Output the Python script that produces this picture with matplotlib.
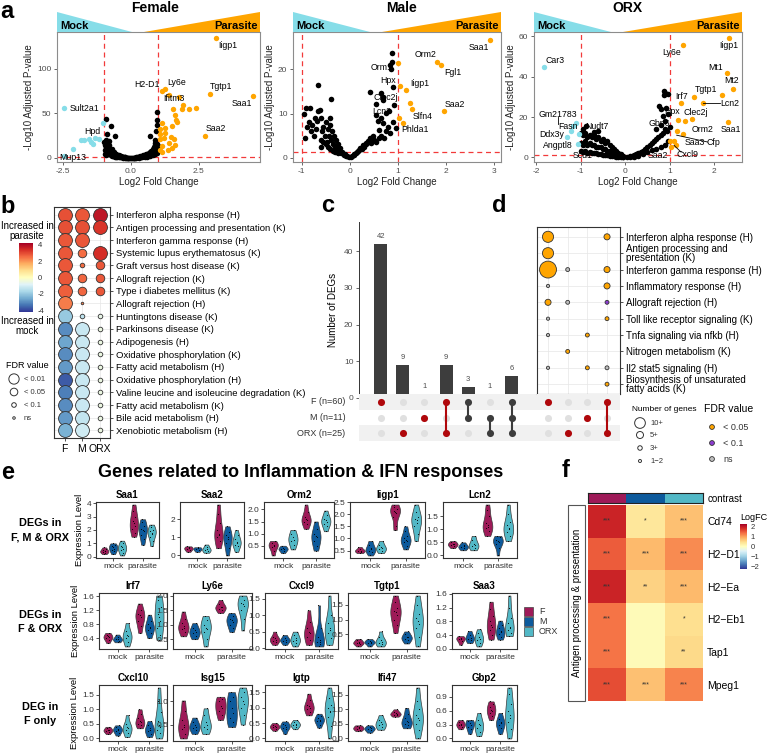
import numpy as np
import matplotlib
matplotlib.use('Agg')
import matplotlib.pyplot as plt
from matplotlib.patches import Polygon, Rectangle
from matplotlib.colors import Normalize, ListedColormap
from matplotlib.cm import ScalarMappable

plt.rcParams['font.family'] = ['Liberation Sans', 'DejaVu Sans']

# ---------------- data ----------------
# a: volcano plots (log2FC, -log10 padj)
female_bg_x = [-0.98, -0.95, -0.92, -0.9, -0.88, -0.85, -0.82, -0.8, -0.77, -0.74, -0.7, -0.66, -0.62, -0.58,
               -0.54, -0.5, -0.45, -0.4, -0.35, -0.3, -0.25, -0.2, -0.15, -0.1, -0.05,
               -0.95, -0.9, -0.85, -0.8, -0.75, -0.7, -0.65, -0.6, -0.55, -0.5, -0.45, -0.4, -0.3, -0.2,
               -0.91, -0.72, -0.87, -0.6, -0.8,
               0.05, 0.1, 0.15, 0.2, 0.25, 0.3, 0.35, 0.4, 0.45, 0.5, 0.55, 0.6, 0.65, 0.7, 0.75, 0.8,
               0.85, 0.9, 0.95, 0.98, 0.3, 0.4, 0.5, 0.6, 0.7, 0.8, 0.9, 0.95, 0.85, 0.75,
               0.97, 0.96, 0.95, 0.71, 0.88, 0.93, 0.9,
               -0.97, -0.93, -0.89, -0.86, -0.83, -0.79, -0.76, -0.72, -0.68, -0.64, -0.6, -0.56, -0.52, -0.48,
               -0.43, -0.38, -0.33, -0.28, -0.23, -0.18, -0.12, -0.07, 0.0, 0.07, 0.12, 0.18, 0.23, 0.28, 0.33,
               0.38, 0.43, 0.48, 0.53, 0.58, 0.63, 0.68, 0.73, 0.78, 0.83, 0.88, 0.93, 0.97, 0.92, 0.87, 0.82]
female_bg_y = [18, 14, 20, 10, 15, 12, 8, 14, 9, 6, 10, 5, 7, 4, 5, 3, 3.5, 2.5, 2, 1.5, 1.2, 0.8, 0.5, 0.3, 0.1,
               5, 3, 6, 4, 3, 2.5, 2, 1.5, 1.2, 1, 0.8, 0.6, 0.4, 0.2,
               44, 36, 27, 24.5, 19,
               0.1, 0.3, 0.5, 0.8, 1.1, 1.5, 2, 2.5, 3, 3.5, 4, 5, 6, 7, 8, 10,
               12, 14, 16, 13, 0.5, 0.8, 1, 1.5, 2, 3, 4, 6, 5, 4,
               52, 42, 37, 25, 17, 30, 20,
               9, 12, 7, 9, 5, 8, 5, 6, 4, 4, 3.5, 3, 2.5, 2,
               2, 1.5, 1, 0.8, 0.6, 0.4, 0.2, 0.1, 0.05, 0.1, 0.2, 0.4, 0.6, 0.8, 1.1,
               1.5, 2, 2.5, 2.8, 3.5, 4, 5, 5.5, 7, 8, 9, 11, 9, 7, 8, 6]
female_up_x = [3.13, 2.91, 4.48, 2.74, 1.14, 1.27, 1.39, 1.77, 1.93, 1.89, 2.14, 2.39, 1.54, 1.62, 1.67, 1.68,
               1.52, 1.14, 1.08, 1.27, 1.46, 1.58, 1.39, 1.14, 1.52, 1.64, 1.07, 1.2, 1.07, 1.35, 1.14, 1.08, 1.27]
female_up_y = [134, 72, 69, 25, 75, 77, 71, 68, 59, 55, 55, 56, 54.5, 48.5, 43, 40,
               36, 39.5, 32, 28, 24, 21, 17, 13, 11, 15, 21, 22, 9, 9, 7, 27, 33]
female_dn_x = [-2.46, -2.45, -2.12, -1.82, -1.72, -1.53, -1.47, -1.34, -1.16, -1.41, -1.03]
female_dn_y = [55.6, 2, 10.3, 19.6, 19.6, 21, 18, 22.6, 21, 16, 39.5]

male_bg_x = [-0.95, -0.9, -0.93, -0.88, -0.85, -0.83, -0.8, -0.79, -0.75, -0.72, -0.7, -0.69, -0.66, -0.65,
             -0.62, -0.6, -0.59, -0.57, -0.55, -0.52, -0.5, -0.48, -0.46, -0.44, -0.42, -0.41, -0.39, -0.38,
             -0.36, -0.35, -0.33, -0.3, -0.28, -0.26, -0.24, -0.22, -0.2, -0.18, -0.15, -0.12, -0.1, -0.07,
             -0.05, -0.02, -0.4, -0.45, -0.35, -0.3, -0.5, -0.55, -0.6, -0.25,
             0.02, 0.05, 0.08, 0.1, 0.13, 0.15, 0.18, 0.2, 0.22, 0.25, 0.28, 0.3, 0.33, 0.35, 0.38, 0.4,
             0.42, 0.45, 0.48, 0.5, 0.43, 0.54, 0.55, 0.59, 0.62, 0.66, 0.66, 0.69, 0.7, 0.69, 0.76, 0.76,
             0.81, 0.83, 0.88, 0.88, 0.83, 0.86, 0.97, 0.6, 0.65, 0.55, 0.72, 0.8, 0.9, 0.93, 0.9]
male_bg_y = [9.8, 11.2, 4.5, 7, 8, 11.2, 6, 7.5, 5, 9, 6.5, 8.2, 16.4, 10.5,
             10.8, 4, 9, 6, 7, 5, 8, 3.5, 6.5, 5, 7.5, 9, 13.4, 4,
             6, 3, 5, 2.5, 4, 2, 3, 1.5, 2.2, 1, 1.2, 0.6, 0.8, 0.3,
             0.4, 0.1, 2, 2.5, 1.5, 1.2, 3, 3.5, 2.5, 1,
             0.1, 0.3, 0.5, 0.8, 1, 1.2, 1.5, 1.8, 2.2, 2, 2.8, 2.5, 3.2, 3, 3.8, 3.5,
             4.5, 3.2, 5, 4, 14.9, 12.2, 9.7, 8.2, 6.3, 9, 14.6, 13.7, 13, 7.8, 10.1, 6,
             10.6, 5.6, 23.7, 21.6, 20.9, 20.1, 6.7, 4.5, 5, 3.5, 4.5, 7, 8, 12, 16]
male_up_x = [2.93, 1.81, 1.91, 1.01, 1.05, 1.17, 1.26, 1.30, 1.96, 1.03, 1.10]
male_up_y = [26.6, 21.6, 20.9, 21.4, 16.2, 15.3, 12.3, 11.0, 10.6, 9.0, 7.8]

orx_bg_x = [-1.0, -0.95, -0.9, -0.85, -0.8, -0.75, -0.7, -0.65, -0.6, -0.55, -0.5, -0.45, -0.4, -0.35, -0.3,
            -0.25, -0.2, -0.15, -0.1, -0.05,
            -1.0, -0.95, -0.9, -0.85, -0.8, -0.75, -0.7, -0.65, -0.6, -0.55, -0.5, -0.45, -0.4, -0.35, -0.3,
            -0.25, -0.2, -0.15, -0.1, -0.05,
            -1.0, -0.95, -0.9, -0.85, -0.8, -0.75, -0.7, -0.65, -0.6, -0.55, -0.5, -0.45, -0.4, -0.35, -0.3,
            -0.25, -0.2, -0.15, -0.1, -0.05,
            -0.88, -0.95, -0.7, -0.6,
            0.05, 0.1, 0.15, 0.2, 0.25, 0.3, 0.35, 0.4, 0.45, 0.5, 0.55, 0.6, 0.65, 0.7, 0.75, 0.8, 0.85,
            0.9, 0.95, 1.0,
            0.1, 0.2, 0.3, 0.4, 0.5, 0.6, 0.7, 0.8, 0.9, 0.97,
            0.88, 0.9, 0.96, 0.88, 0.76, 0.81, 0.92, 0.85, 0.96, 0.9, 0.8, 0.7]
orx_bg_y = [12, 11, 12, 10, 11, 10, 11, 9, 10, 8, 9, 7, 8, 6, 5, 4, 3, 2, 1.5, 0.8,
            7, 6, 8, 6, 7, 6, 6, 5, 5, 5, 4, 4, 3, 3, 2.5, 2, 1.5, 1, 0.7, 0.3,
            3, 2.5, 3, 2, 2.5, 2, 2, 2, 1.5, 1.5, 1.2, 1, 1, 0.8, 0.6, 0.5, 0.4, 0.3, 0.2, 0.1,
            15.7, 14, 12.5, 13,
            0.3, 0.5, 0.8, 1, 1.5, 2, 2.5, 3, 4, 5, 6, 7, 8, 9, 10, 11, 12, 14, 13, 15,
            0.2, 0.4, 0.8, 1.5, 2.5, 3.5, 4, 5, 6, 8,
            33, 31.7, 31.4, 30.9, 25.6, 24, 24.5, 20.7, 21.5, 18, 16, 14]
orx_up_x = [2.34, 1.30, 2.29, 2.42, 1.56, 2.19, 1.75, 1.26, 1.51, 1.35, 1.18, 2.31, 1.30, 1.16, 1.02,
            1.11, 1.15, 1.03]
orx_up_y = [59.2, 55.7, 41.7, 33.9, 30.1, 30.9, 26.9, 26.9, 19, 18.2, 18.7, 17.7, 11.6, 13.2, 8.3,
            8.3, 6.1, 5]
orx_dn_x = [-1.83, -1.10, -1.18, -1.30, -1.21, -1.03, -1.06]
orx_dn_y = [45, 16.9, 15.7, 9.9, 13.2, 11.6, 6.6]

female_labels = [('Iigp1', 3.57, 125.6), ('Tgtp1', 3.32, 80), ('Saa1', 4.07, 61), ('Saa2', 3.13, 33),
                 ('Ly6e', 1.7, 84.5), ('H2-D1', 0.59, 82.6), ('Ifitm3', 1.58, 67), ('Sult2a1', -1.72, 55.6),
                 ('Hpd', -1.43, 30), ('Mup13', -2.15, 0)]
male_labels = [('Saa1', 2.69, 25), ('Orm2', 1.57, 23.3), ('Fgl1', 2.15, 19.4), ('Orm1', 0.66, 20.5),
               ('Hpx', 0.79, 17.6), ('Iigp1', 1.45, 16.8), ('Clec2j', 0.75, 13.7), ('Lcn2', 0.66, 10.4),
               ('Slfn4', 1.52, 9.3), ('Saa2', 2.19, 12), ('Phlda1', 1.35, 6.3)]
orx_labels = [('Iigp1', 2.34, 55.3), ('Ly6e', 1.05, 52), ('Mt1', 2.04, 44.6), ('Mt2', 2.4, 37.9),
              ('Tgtp1', 1.82, 33.5), ('Irf7', 1.28, 30.2), ('Lcn2', 2.36, 26.9), ('Clec2j', 1.58, 22.3),
              ('Hpx', 1.05, 23), ('Car3', -1.57, 48.2), ('Gm21783', -1.51, 21.4), ('Fasn', -1.29, 15.3),
              ('Ddx3y', -1.66, 11.5), ('Angptl8', -1.51, 6), ('Nudt7', -0.64, 15.3), ('Gbp6', 0.76, 17),
              ('Orm2', 1.75, 14), ('Saa1', 2.38, 14), ('Saa3', 1.56, 7.4), ('Cfp', 1.99, 7.4),
              ('Cxcl9', 1.41, 1.6), ('Saa2', 0.73, 0.8), ('Scd1', -0.95, 1.0)]
orx_leaders = [((1.75, 26.9), (2.14, 26.9)), ((1.16, 11.0), (1.86, 7.6)), ((1.10, 6.0), (1.26, 2.6)),
               ((-1.5, 16.5), (-1.5, 19.8))]

# b: pathway dot plot
b_paths = ['Interferon alpha response (H)', 'Antigen processing and presentation (K)',
           'Interferon gamma response (H)', 'Systemic lupus erythematosus (K)', 'Graft versus host disease (K)',
           'Allograft rejection (K)', 'Type i diabetes mellitus (K)', 'Allograft rejection (H)',
           'Huntingtons disease (K)', 'Parkinsons disease (K)', 'Adipogenesis (H)',
           'Oxidative phosphorylation (K)', 'Fatty acid metabolism (H)', 'Oxidative phosphorylation (H)',
           'Valine leucine and isoleucine degradation (K)', 'Fatty acid metabolism (K)',
           'Bile acid metabolism (H)', 'Xenobiotic metabolism (H)']
b_cols = ['F', 'M', 'ORX']
b_F = [2.9, 2.9, 2.8, 2.8, 2.8, 2.8, 2.7, 2.3, -2.0, -3.0, -2.6, -3.0, -2.8, -3.7, -3.2, -3.0, -2.8, -2.4]
b_M = [2.8, 2.9, 2.8, 2.5, 2.5, 2.6, 2.6, 2.3, -1.4, -1.2, -1.2, -1.2, -1.2, -1.2, -1.2, -1.2, -1.3, -1.1]
b_ORX = [3.8, 3.3, None, 3.4, 2.8, 2.8, 2.8, None, -0.6, -0.5, -0.5, -0.5, -0.5, -0.5, -0.5, -0.5, -0.5, -0.5]
b_F_fdr = ['<0.01'] * 18
b_M_fdr = ['<0.01', '<0.01', '<0.01', '<0.05', '<0.1', '<0.05', '<0.05', 'ns', '<0.1'] + ['<0.01'] * 9
b_ORX_fdr = ['<0.01', '<0.01', None, '<0.01', '<0.05', '<0.05', '<0.05', None] + ['<0.1'] * 10

# c: upset
c_counts = [42, 9, 1, 9, 3, 1, 6]
c_sets = [['F'], ['ORX'], ['M'], ['F', 'ORX'], ['F', 'M'], ['M', 'ORX'], ['F', 'M', 'ORX']]
c_red = [True, True, True, True, False, False, False]
set_groups = ['F', 'M', 'ORX']
set_names = ['F (n=60)', 'M (n=11)', 'ORX (n=25)']

# d: enrichment of the intersections
d_sets = [['F'], ['ORX'], ['M'], ['F', 'ORX']]
d_paths = ['Interferon alpha response (H)', 'Antigen processing and\npresentation (K)',
           'Interferon gamma response (H)', 'Inflammatory response (H)', 'Allograft rejection (H)',
           'Toll like receptor signaling (K)', 'Tnfa signaling via nfkb (H)', 'Nitrogen metabolism (K)',
           'Il2 stat5 signaling (H)', 'Biosynthesis of unsaturated\nfatty acids (K)']
d_row = [0, 0, 1, 2, 2, 2, 3, 3, 4, 4, 4, 5, 5, 6, 6, 7, 8, 8, 8, 9]
d_col = [0, 3, 0, 0, 1, 3, 0, 3, 0, 1, 3, 0, 3, 0, 2, 1, 0, 2, 3, 3]
d_genes = [12, 5, 12, 20, 2, 5, 1, 5, 5, 2, 2, 1, 2, 1, 2, 2, 1, 2, 2, 2]
d_fdr = ['<0.05', '<0.05', '<0.05', '<0.05', 'ns', '<0.05', 'ns', '<0.05', '<0.05', 'ns', '<0.1', 'ns',
         '<0.05', 'ns', '<0.05', '<0.05', 'ns', '<0.05', 'ns', '<0.05']

# e: violin plots, per gene: mock F, M, ORX, parasite F, M, ORX
saa1 = [[0.2, 0.3, 0.35, 0.4, 0.45, 0.5, 0.6, 0.7], [0.2, 0.4, 0.5, 0.6, 0.7, 0.8, 0.9, 1.0],
        [0.1, 0.3, 0.5, 0.6, 0.7, 0.8, 1.0, 1.2], [1.5, 1.8, 2.1, 2.3, 2.5, 2.7, 3.0, 3.4, 3.9],
        [0.9, 1.3, 1.6, 1.9, 2.0, 2.1, 2.3, 2.6, 2.8], [0.8, 1.2, 1.5, 1.7, 1.8, 1.9, 2.0, 2.2, 2.4]]
saa2 = [[0.2, 0.3, 0.35, 0.4, 0.45, 0.5], [0.2, 0.3, 0.35, 0.4, 0.45], [0.15, 0.25, 0.3, 0.35, 0.45, 0.6],
        [0.4, 0.8, 1.0, 1.1, 1.2, 1.4, 1.8, 2.3, 2.8], [0.0, 0.4, 0.7, 0.9, 1.0, 1.1, 1.3, 1.6],
        [0.2, 0.5, 0.6, 0.7, 0.75, 0.9, 1.1, 1.4]]
orm2 = [[0.1, 0.3, 0.45, 0.5, 0.55, 0.6, 0.7], [0.2, 0.3, 0.35, 0.38, 0.42, 0.5],
        [0.35, 0.55, 0.7, 0.75, 0.85, 1.0, 1.15], [1.2, 1.4, 1.5, 1.55, 1.6, 1.7, 1.9, 2.2],
        [0.3, 0.5, 0.7, 0.85, 0.9, 1.0, 1.2, 1.5], [1.1, 1.3, 1.4, 1.5, 1.55, 1.6, 1.75, 1.95]]
iigp1 = [[0.4, 0.45, 0.5, 0.5, 0.55, 0.65], [0.3, 0.45, 0.5, 0.55, 0.6, 0.75, 0.9],
         [0.4, 0.5, 0.55, 0.6, 0.65, 0.75, 0.9], [1.35, 1.5, 1.9, 2.05, 2.1, 2.15, 2.2, 2.3, 2.4],
         [0.55, 0.7, 0.85, 0.9, 0.95, 1.0, 1.1, 1.3, 1.5], [0.9, 1.2, 1.5, 1.65, 1.75, 1.8, 1.9, 2.1, 2.4]]
lcn2 = [[0.28, 0.35, 0.4, 0.42, 0.45, 0.5, 0.55], [0.2, 0.28, 0.32, 0.35, 0.4, 0.5],
        [0.2, 0.3, 0.35, 0.4, 0.45, 0.6, 0.75], [0.75, 0.95, 1.05, 1.1, 1.15, 1.25, 1.5, 1.75, 1.95],
        [0.0, 0.3, 0.45, 0.5, 0.55, 0.6, 0.7, 0.75], [0.55, 0.75, 0.9, 1.0, 1.05, 1.15, 1.3, 1.6, 1.95]]
irf7 = [[0.26, 0.35, 0.4, 0.42, 0.45, 0.5, 0.55], [0.28, 0.33, 0.36, 0.38, 0.42, 0.5],
        [0.16, 0.3, 0.4, 0.45, 0.5, 0.6, 0.83], [0.55, 0.75, 0.9, 1.0, 1.05, 1.1, 1.2, 1.39],
        [0.4, 0.55, 0.62, 0.68, 0.72, 0.8, 0.9, 1.07], [0.35, 0.5, 0.7, 0.9, 1.0, 1.1, 1.3, 1.5, 1.62]]
ly6e = [[0.6, 0.75, 0.85, 0.9, 0.95, 1.05, 1.2, 1.45], [0.5, 0.6, 0.7, 0.75, 0.8, 0.9, 1.05],
        [0.25, 0.5, 0.75, 0.85, 0.9, 1.0, 1.15, 1.3], [1.4, 1.5, 1.55, 1.6, 1.62, 1.7, 1.85],
        [0.75, 0.9, 1.0, 1.1, 1.15, 1.2, 1.3, 1.4], [0.8, 1.2, 1.5, 1.65, 1.7, 1.75, 1.85, 2.0]]
cxcl9 = [[0.1, 0.2, 0.23, 0.25, 0.3, 0.35, 0.5], [0.1, 0.2, 0.23, 0.25, 0.3, 0.4],
         [0.05, 0.15, 0.22, 0.25, 0.3, 0.4, 0.5], [0.1, 0.25, 0.35, 0.45, 0.5, 0.6, 0.8, 1.15],
         [0.05, 0.12, 0.18, 0.2, 0.25, 0.35, 0.6, 1.3], [0.1, 0.3, 0.45, 0.55, 0.6, 0.75, 1.0, 1.6]]
tgtp1 = [[0.1, 0.18, 0.2, 0.22, 0.25, 0.3, 0.35], [0.1, 0.2, 0.23, 0.25, 0.28, 0.35],
         [0.1, 0.18, 0.22, 0.25, 0.3, 0.4, 0.6], [0.55, 0.8, 1.0, 1.15, 1.25, 1.3, 1.4, 1.6, 1.8],
         [0.2, 0.3, 0.35, 0.4, 0.42, 0.5, 0.6], [0.1, 0.4, 0.7, 0.85, 0.95, 1.05, 1.2, 1.5, 1.8]]
saa3 = [[0.12, 0.22, 0.28, 0.3, 0.32, 0.37], [0.17, 0.25, 0.3, 0.33, 0.4, 0.52],
        [0.07, 0.18, 0.25, 0.3, 0.35, 0.45, 0.57], [0.27, 0.4, 0.55, 0.65, 0.7, 0.8, 0.95, 1.15, 1.37],
        [0.27, 0.35, 0.42, 0.48, 0.52, 0.6, 0.7, 0.82], [0.37, 0.45, 0.55, 0.6, 0.65, 0.75, 0.9, 1.2, 1.55]]
cxcl10 = [[0.15, 0.22, 0.25, 0.28, 0.3, 0.35, 0.4], [0.1, 0.2, 0.25, 0.3, 0.32, 0.38, 0.45],
          [0.05, 0.2, 0.3, 0.35, 0.4, 0.5, 0.8], [0.35, 0.45, 0.5, 0.55, 0.6, 0.7, 0.85, 1.0],
          [0.05, 0.15, 0.25, 0.3, 0.35, 0.45, 0.6], [0.0, 0.2, 0.3, 0.38, 0.45, 0.6, 0.9, 1.3, 1.75]]
isg15 = [[0.2, 0.3, 0.4, 0.45, 0.5, 0.6, 0.8, 1.02], [0.3, 0.38, 0.42, 0.45, 0.5, 0.55, 0.65],
         [0.3, 0.4, 0.45, 0.5, 0.55, 0.7, 0.85], [0.6, 0.7, 0.8, 0.85, 0.9, 1.0, 1.05, 1.1],
         [0.45, 0.55, 0.65, 0.75, 0.85, 1.0, 1.1, 1.2], [0.5, 0.7, 0.85, 0.95, 1.0, 1.1, 1.2, 1.3]]
igtp = [[0.25, 0.32, 0.36, 0.38, 0.4, 0.45, 0.5], [0.15, 0.3, 0.35, 0.38, 0.42, 0.48, 0.55],
        [0.3, 0.38, 0.42, 0.45, 0.48, 0.52, 0.6], [0.75, 0.85, 0.95, 1.0, 1.05, 1.1, 1.25, 1.45],
        [0.35, 0.45, 0.55, 0.58, 0.6, 0.65, 0.72, 0.8], [0.0, 0.4, 0.7, 0.85, 0.9, 1.0, 1.1, 1.3, 1.65]]
ifi47 = [[0.25, 0.3, 0.33, 0.35, 0.38, 0.42, 0.45], [0.2, 0.28, 0.32, 0.35, 0.38, 0.45],
         [0.3, 0.38, 0.45, 0.5, 0.55, 0.65, 0.8], [0.75, 0.8, 0.82, 0.85, 0.88, 0.92, 1.0],
         [0.35, 0.45, 0.5, 0.55, 0.6, 0.7, 0.85, 1.05], [0.0, 0.3, 0.5, 0.65, 0.7, 0.8, 1.0, 1.3, 1.75]]
gbp2 = [[0.2, 0.25, 0.28, 0.3, 0.32, 0.36, 0.4], [0.1, 0.2, 0.25, 0.3, 0.33, 0.38, 0.4],
        [0.05, 0.15, 0.22, 0.28, 0.32, 0.4, 0.55], [0.4, 0.48, 0.55, 0.6, 0.62, 0.68, 0.75, 0.8],
        [0.1, 0.22, 0.28, 0.33, 0.36, 0.42, 0.55], [0.0, 0.2, 0.35, 0.45, 0.5, 0.6, 0.75, 0.95, 1.1]]

e_names = [['Saa1', 'Saa2', 'Orm2', 'Iigp1', 'Lcn2'],
           ['Irf7', 'Ly6e', 'Cxcl9', 'Tgtp1', 'Saa3'],
           ['Cxcl10', 'Isg15', 'Igtp', 'Ifi47', 'Gbp2']]
e_data = [[saa1, saa2, orm2, iigp1, lcn2],
          [irf7, ly6e, cxcl9, tgtp1, saa3],
          [cxcl10, isg15, igtp, ifi47, gbp2]]
e_ticks = [[[0, 1, 2, 3, 4], [0, 1, 2], [0.5, 1.0, 1.5, 2.0], [0.5, 1.0, 1.5, 2.0, 2.5], [0.0, 0.5, 1.0, 1.5]],
           [[0.4, 0.8, 1.2, 1.6], [0.5, 1.0, 1.5, 2.0], [0.0, 0.5, 1.0, 1.5], [0.0, 0.5, 1.0, 1.5],
            [0.0, 0.4, 0.8, 1.2, 1.6]],
           [[0.0, 0.5, 1.0, 1.5], [0.5, 1.0], [0.0, 0.5, 1.0, 1.5], [0.0, 0.5, 1.0, 1.5], [0.0, 0.3, 0.6, 0.9]]]
e_rowlabels = ['DEGs in\nF, M & ORX', 'DEGs in\nF & ORX', 'DEG in\nF only']
conditions = ['mock', 'parasite']

# f: heatmap
f_genes = ['Cd74', 'H2\u2212D1', 'H2\u2212Ea', 'H2\u2212Eb1', 'Tap1', 'Mpeg1']
f_logfc = [[1.7, 0.3, 0.65], [1.3, 0.7, 1.0], [1.7, 0.5, 0.7], [1.15, 0.05, 0.4], [1.15, 0.05, 0.45],
           [1.4, 0.65, 1.05]]
f_stars = [['***', '*', '***'], ['***', '***', '***'], ['***', '**', '***'], ['***', '', '*'],
           ['***', '', '**'], ['***', '***', '***']]

# ---------------- style ----------------
W, H = 767, 753
CYAN = '#86DDE8'
ORANGE = '#FFA500'
RED_LINE = '#F23A3A'
GRP_COL = {'F': '#9E1A58', 'M': '#0D5A9C', 'ORX': '#52B8C6'}
UPSET_RED = '#B0080C'
DARK = '#3D3D3D'
TICK_GREY = '#4D4D4D'

fig = plt.figure(figsize=(W / 100, H / 100), dpi=100)


def add_ax(l, t, r, b):
    return fig.add_axes([l / W, 1 - b / H, (r - l) / W, (b - t) / H])


# ---------------- a: volcano ----------------
def volcano(l, r, title, title_x, bg, up, dn, xlim, ylim, xticks, xtl, yticks, labels, leaders=()):
    ax = add_ax(l, 32, r, 162)
    ax.scatter(bg[0], bg[1], s=16, c='black', lw=0, zorder=3)
    if up:
        ax.scatter(up[0], up[1], s=15, c=ORANGE, lw=0, zorder=3)
    if dn:
        ax.scatter(dn[0], dn[1], s=15, c=CYAN, lw=0, zorder=3)
    for xv in (-1, 1):
        ax.axvline(xv, color=RED_LINE, ls=(0, (4, 3)), lw=0.9, zorder=2)
    ax.axhline(-np.log10(0.05), color=RED_LINE, ls=(0, (4, 3)), lw=0.9, zorder=2)
    for name, tx, ty in labels:
        ax.text(tx, ty, name, fontsize=6.3, ha='center', va='center', zorder=4)
    for (x0, y0), (x1, y1) in leaders:
        ax.plot([x0, x1], [y0, y1], color='black', lw=0.6, zorder=4)
    ax.set_xlim(*xlim)
    ax.set_ylim(*ylim)
    ax.set_xticks(xticks, xtl)
    ax.set_yticks(yticks, [str(v) for v in yticks])
    ax.tick_params(labelsize=6, colors=TICK_GREY, length=2.5, width=0.6, pad=1.5)
    for s in ax.spines.values():
        s.set_color('#8C8C8C')
        s.set_linewidth(0.8)
    ax.set_xlabel('Log2 Fold Change', fontsize=7, color='#222222', labelpad=1.5)
    ax.set_ylabel('-Log10 Adjusted P-value', fontsize=7, color='#222222', labelpad=2)
    tri = add_ax(l, 12, r, 32)
    tri.set_xlim(0, 1)
    tri.set_ylim(0, 1)
    tri.axis('off')
    tri.add_patch(Polygon([(0, 1), (0, 0), (0.37, 0)], closed=True, fc=CYAN, ec='none'))
    tri.add_patch(Polygon([(0.43, 0), (1, 0), (1, 1)], closed=True, fc=ORANGE, ec='none'))
    tri.text(0.015, 0.3, 'Mock', fontsize=8, fontweight='bold', ha='left', va='center')
    tri.text(0.99, 0.3, 'Parasite', fontsize=8, fontweight='bold', ha='right', va='center')
    fig.text(title_x / W, 1 - 8 / H, title, fontsize=10, fontweight='bold', ha='center', va='center')


volcano(57, 260, 'Female', 155, (female_bg_x, female_bg_y), (female_up_x, female_up_y),
        (female_dn_x, female_dn_y), (-2.72, 4.75), (-4.5, 141), [-2.5, 0, 2.5], ['-2.5', '0.0', '2.5'],
        [0, 50, 100], female_labels)
volcano(293, 501, 'Male', 402, (male_bg_x, male_bg_y), (male_up_x, male_up_y), None,
        (-1.18, 3.15), (-1.0, 28.5), [-1, 0, 1, 2, 3], ['-1', '0', '1', '2', '3'],
        [0, 10, 20], male_labels)
volcano(534, 742, 'ORX', 627, (orx_bg_x, orx_bg_y), (orx_up_x, orx_up_y), (orx_dn_x, orx_dn_y),
        (-2.05, 2.63), (-2.3, 62.2), [-2, -1, 0, 1, 2], ['-2', '-1', '0', '1', '2'],
        [0, 20, 40, 60], orx_labels, orx_leaders)

# ---------------- b: dot plot ----------------
b_cmap = plt.get_cmap('RdYlBu_r')
b_norm = Normalize(-4.2, 4.2)
b_size = {'<0.01': 100, '<0.05': 38, '<0.1': 11, 'ns': 3.3}
bx = add_ax(54, 207, 110, 438)
for j, (vals, fdrs) in enumerate([(b_F, b_F_fdr), (b_M, b_M_fdr), (b_ORX, b_ORX_fdr)]):
    for i, (v, f) in enumerate(zip(vals, fdrs)):
        if v is None:
            continue
        bx.scatter(j, i, s=b_size[f], color=b_cmap(b_norm(v)), edgecolor='#333333', lw=0.6, zorder=3)
bx.set_xlim(-0.6, 2.6)
bx.set_ylim(17.6, -0.6)
bx.yaxis.tick_right()
bx.set_yticks(range(len(b_paths)), b_paths)
bx.set_xticks(range(3), b_cols)
bx.tick_params(axis='y', labelsize=6.8, length=2.5, width=0.6, pad=2, colors='#333333', labelcolor='black')
bx.tick_params(axis='x', labelsize=7.5, length=2.5, width=0.6, pad=2, colors='#333333', labelcolor='black')
bx.grid(color='#E6E6E6', lw=0.5)
bx.set_axisbelow(True)
for s in bx.spines.values():
    s.set_color('#333333')
    s.set_linewidth(0.8)

cax = add_ax(19, 243, 33, 312)
cb = fig.colorbar(ScalarMappable(b_norm, b_cmap), cax=cax, ticks=[4, 2, 0, -2, -4])
cb.ax.set_yticklabels(['4', '2', '0', '-2', '-4'])
cb.ax.tick_params(labelsize=5.5, length=2, width=0.5, color='white', pad=1.5, labelcolor='#333333')
cb.outline.set_visible(False)

# ---------------- c: upset ----------------
ux = add_ax(359, 222, 523, 398)
ux.bar(range(len(c_counts)), c_counts, width=0.6, color=DARK)
for i, v in enumerate(c_counts):
    ux.text(i, v + 1.2, str(v), ha='center', va='bottom', fontsize=5.5, color=TICK_GREY)
ux.set_xlim(-1, 6.52)
ux.set_ylim(0, 48)
ux.set_xticks([])
ux.set_yticks([0, 10, 20, 30, 40])
ux.tick_params(labelsize=6, colors=TICK_GREY, length=2.5, width=0.6, pad=1.5)
for k in ('top', 'right', 'bottom'):
    ux.spines[k].set_visible(False)
ux.spines['left'].set_color('#333333')
ux.spines['left'].set_linewidth(0.7)
ux.set_ylabel('Number of DEGs', fontsize=7, labelpad=4)


def matrix(ax, sets, red, xlim):
    ax.set_xlim(*xlim)
    ax.set_ylim(2.5, -0.5)
    for r in (0, 2):
        ax.axhspan(r - 0.5, r + 0.5, color='#F1F1F1', lw=0, zorder=0)
    for i, members in enumerate(sets):
        col = UPSET_RED if red[i] else DARK
        ax.scatter([i] * 3, range(3), s=26, color='#E0E0E0', lw=0, zorder=2)
        rows = [set_groups.index(g) for g in members]
        if len(rows) > 1:
            ax.plot([i, i], [min(rows), max(rows)], color=col, lw=1.5, zorder=3)
        ax.scatter([i] * len(rows), rows, s=26, color=col, lw=0, zorder=4)
    ax.set_xticks([])
    ax.set_yticks([])
    for s in ax.spines.values():
        s.set_visible(False)


mx = add_ax(359, 394, 537, 441)
matrix(mx, c_sets, c_red, (-1, -1 + (537 - 359) / 21.8))
for r, name in enumerate(set_names):
    mx.text(-1.62, r, name, ha='right', va='center', fontsize=6.5, color='#333333')

# ---------------- d: intersection enrichment ----------------
d_color = {'<0.05': ORANGE, '<0.1': '#8C3BD0', 'ns': '#BEBEBE'}
dx = add_ax(537, 227, 620, 394)
dx.scatter(d_col, d_row, s=[(0.72 * (2.5 + 0.72 * g)) ** 2 for g in d_genes],
           c=[d_color[f] for f in d_fdr], edgecolor='#333333', lw=0.6, zorder=3)
dx.set_xlim(-0.56, 3.66)
dx.set_ylim(9.6, -0.6)
dx.set_xticks(range(4))
dx.xaxis.set_ticklabels([])
dx.tick_params(axis='x', length=0)
dx.yaxis.tick_right()
dx.set_yticks(range(len(d_paths)), d_paths)
for t in dx.get_yticklabels():
    t.set_linespacing(0.85)
dx.tick_params(axis='y', labelsize=7.0, length=2.5, width=0.6, pad=2, colors='#333333', labelcolor='black')
dx.grid(color='#E6E6E6', lw=0.5)
dx.set_axisbelow(True)
for s in dx.spines.values():
    s.set_color('#333333')
    s.set_linewidth(0.8)

dmx = add_ax(537, 394, 620, 441)
matrix(dmx, d_sets, [True] * 4, (-0.56, 3.66))

# ---------------- e: violins ----------------
e_pos = [[(96, 159), (180, 244), (264, 334), (350, 425), (443, 517)],
         [(99, 167), (173, 252), (265, 338), (348, 427), (452, 517)],
         [(99, 167), (173, 252), (265, 338), (348, 427), (452, 517)]]
e_vert = [(502, 558), (593, 649), (685, 741)]
grp_order = ['F', 'M', 'ORX']
for r in range(3):
    for c in range(5):
        l, rr = e_pos[r][c]
        t, b = e_vert[r]
        ax = add_ax(l, t, rr, b)
        data = e_data[r][c]
        lo = min(min(v) for v in data)
        hi = max(max(v) for v in data)
        for g, vals in enumerate(data):
            cond, grp = divmod(g, 3)
            pos = 1 + cond + (grp - 1) * 0.3
            parts = ax.violinplot([vals], positions=[pos], widths=0.28, showextrema=False)
            for body in parts['bodies']:
                body.set_facecolor(GRP_COL[grp_order[grp]])
                body.set_edgecolor('#3A3A3A')
                body.set_linewidth(0.5)
                body.set_alpha(1)
            jit = 0.05 * np.sin(np.arange(len(vals)) * 2.3)
            ax.scatter(pos + jit, vals, s=0.6, c='black', lw=0, zorder=3)
        pad = 0.05 * (hi - lo)
        ax.set_ylim(lo - pad, hi + pad)
        ticks = [v for v in e_ticks[r][c] if lo - pad <= v <= hi + pad + 1e-9]
        ax.set_yticks(ticks, [('%g' % v) if all(float(x).is_integer() for x in e_ticks[r][c]) else '%.1f' % v
                              for v in ticks])
        ax.set_xlim(0.42, 2.55)
        ax.set_xticks([1, 2], conditions)
        ax.tick_params(labelsize=6, colors='#333333', length=2, width=0.6, pad=1.5)
        for s in ax.spines.values():
            s.set_color('#333333')
            s.set_linewidth(0.8)
        ax.set_title(e_names[r][c], fontsize=7, fontweight='bold', pad=3)
        if c == 0:
            ax.set_ylabel('Expression Level', fontsize=6.8, labelpad=2)

# ---------------- f: heatmap ----------------
f_cmap = plt.get_cmap('RdYlBu_r')
hx = add_ax(588, 505, 703, 701)
hx.imshow(np.array(f_logfc), cmap=f_cmap, vmin=-2, vmax=2, aspect='auto')
for i, row in enumerate(f_stars):
    for j, s in enumerate(row):
        if s:
            hx.text(j, i, s, ha='center', va='center', fontsize=5, color='#333333')
hx.yaxis.tick_right()
hx.set_yticks(range(len(f_genes)), f_genes)
hx.set_xticks([])
hx.tick_params(axis='y', length=0, labelsize=7.5, pad=3)
for s in hx.spines.values():
    s.set_visible(False)

cbx = add_ax(588, 493, 703, 503)
cbx.imshow([[0, 1, 2]], cmap=ListedColormap([GRP_COL[g] for g in grp_order]), aspect='auto')
cbx.set_xticks([])
cbx.yaxis.tick_right()
cbx.set_yticks([0], ['contrast'])
cbx.tick_params(axis='y', length=0, labelsize=7, pad=3)
for s in cbx.spines.values():
    s.set_color('#222222')
    s.set_linewidth(0.8)

lcx = add_ax(740, 524, 747, 569)
cb2 = fig.colorbar(ScalarMappable(Normalize(-2.2, 2.2), f_cmap), cax=lcx, ticks=[2, 1, 0, -1, -2])
cb2.ax.set_yticklabels(['2', '1', '0', '\u22121', '\u22122'])
cb2.ax.tick_params(labelsize=5.5, length=1.5, width=0.5, color='white', pad=1, labelcolor='#333333')
cb2.outline.set_visible(False)

# ---------------- overlay: legends, panel letters, texts ----------------
ov = fig.add_axes([0, 0, 1, 1])
ov.set_xlim(0, W)
ov.set_ylim(H, 0)
ov.axis('off')

for lab, (x, y) in zip('abcdef', [(7, 11), (8, 206), (328, 205), (499, 205), (8, 472), (566, 470)]):
    ov.text(x, y, lab, fontsize=17, fontweight='bold', ha='center', va='center')

# b legends
ov.text(27, 231, 'Increased in\nparasite', fontsize=7, ha='center', va='center', linespacing=1.1)
ov.text(27, 326, 'Increased in\nmock', fontsize=7, ha='center', va='center', linespacing=1.1)
ov.text(27, 365, 'FDR value', fontsize=6.5, ha='center', va='center')
b_leg_txt = ['< 0.01', '< 0.05', '< 0.1', 'ns']
b_leg_y = [379, 392, 405, 418]
ov.scatter([14] * 4, b_leg_y, s=[55, 30, 11, 3.3], facecolor='white', edgecolor='#333333', lw=0.7)
for t, y in zip(b_leg_txt, b_leg_y):
    ov.text(24, y, t, fontsize=5.5, ha='left', va='center', color='#333333')

# d legends
ov.text(632, 409, 'Number of genes', fontsize=6, ha='left', va='center')
n_leg = ['10+', '5+', '3+', '1\u22122']
n_leg_y = [423, 435, 448, 461]
ov.scatter([640] * 4, n_leg_y, s=[(0.72 * d) ** 2 for d in (10.7, 7, 4.5, 3)],
           facecolor='white', edgecolor='#333333', lw=0.7)
for t, y in zip(n_leg, n_leg_y):
    ov.text(650, y, t, fontsize=5.5, ha='left', va='center', color='#333333')
ov.text(704, 409, 'FDR value', fontsize=7.5, ha='left', va='center')
f_leg = ['<0.05', '<0.1', 'ns']
f_leg_txt = ['< 0.05', '< 0.1', 'ns']
f_leg_y = [427, 443, 459]
ov.scatter([712] * 3, f_leg_y, s=12, c=[d_color[f] for f in f_leg], edgecolor='#333333', lw=0.6)
for t, y in zip(f_leg_txt, f_leg_y):
    ov.text(723, y, t, fontsize=6.5, ha='left', va='center', color='#333333')

# e texts and legend
ov.text(301, 472, 'Genes related to Inflammation & IFN responses', fontsize=13, fontweight='bold',
        ha='center', va='center')
for lab, y in zip(e_rowlabels, [530, 622, 714]):
    ov.text(40, y, lab, fontsize=7.8, fontweight='bold', ha='center', va='center', linespacing=1.6)
for g, y in zip(grp_order, [611, 621, 631]):
    ov.add_patch(Rectangle((524, y - 4.5), 9, 9, fc=GRP_COL[g], ec='#444444', lw=0.5))
    ov.text(539, y, g, fontsize=6.5, ha='left', va='center', color='#333333')

# f annotation
ov.add_patch(Rectangle((568, 505), 17, 196, fill=False, ec='#555555', lw=0.8))
ov.text(576.5, 603, 'Antigen processing & presentation', rotation=90, fontsize=7, ha='center', va='center')
ov.text(740, 517, 'LogFC', fontsize=6.5, ha='left', va='center')

fig.savefig('out.png', dpi=100)
